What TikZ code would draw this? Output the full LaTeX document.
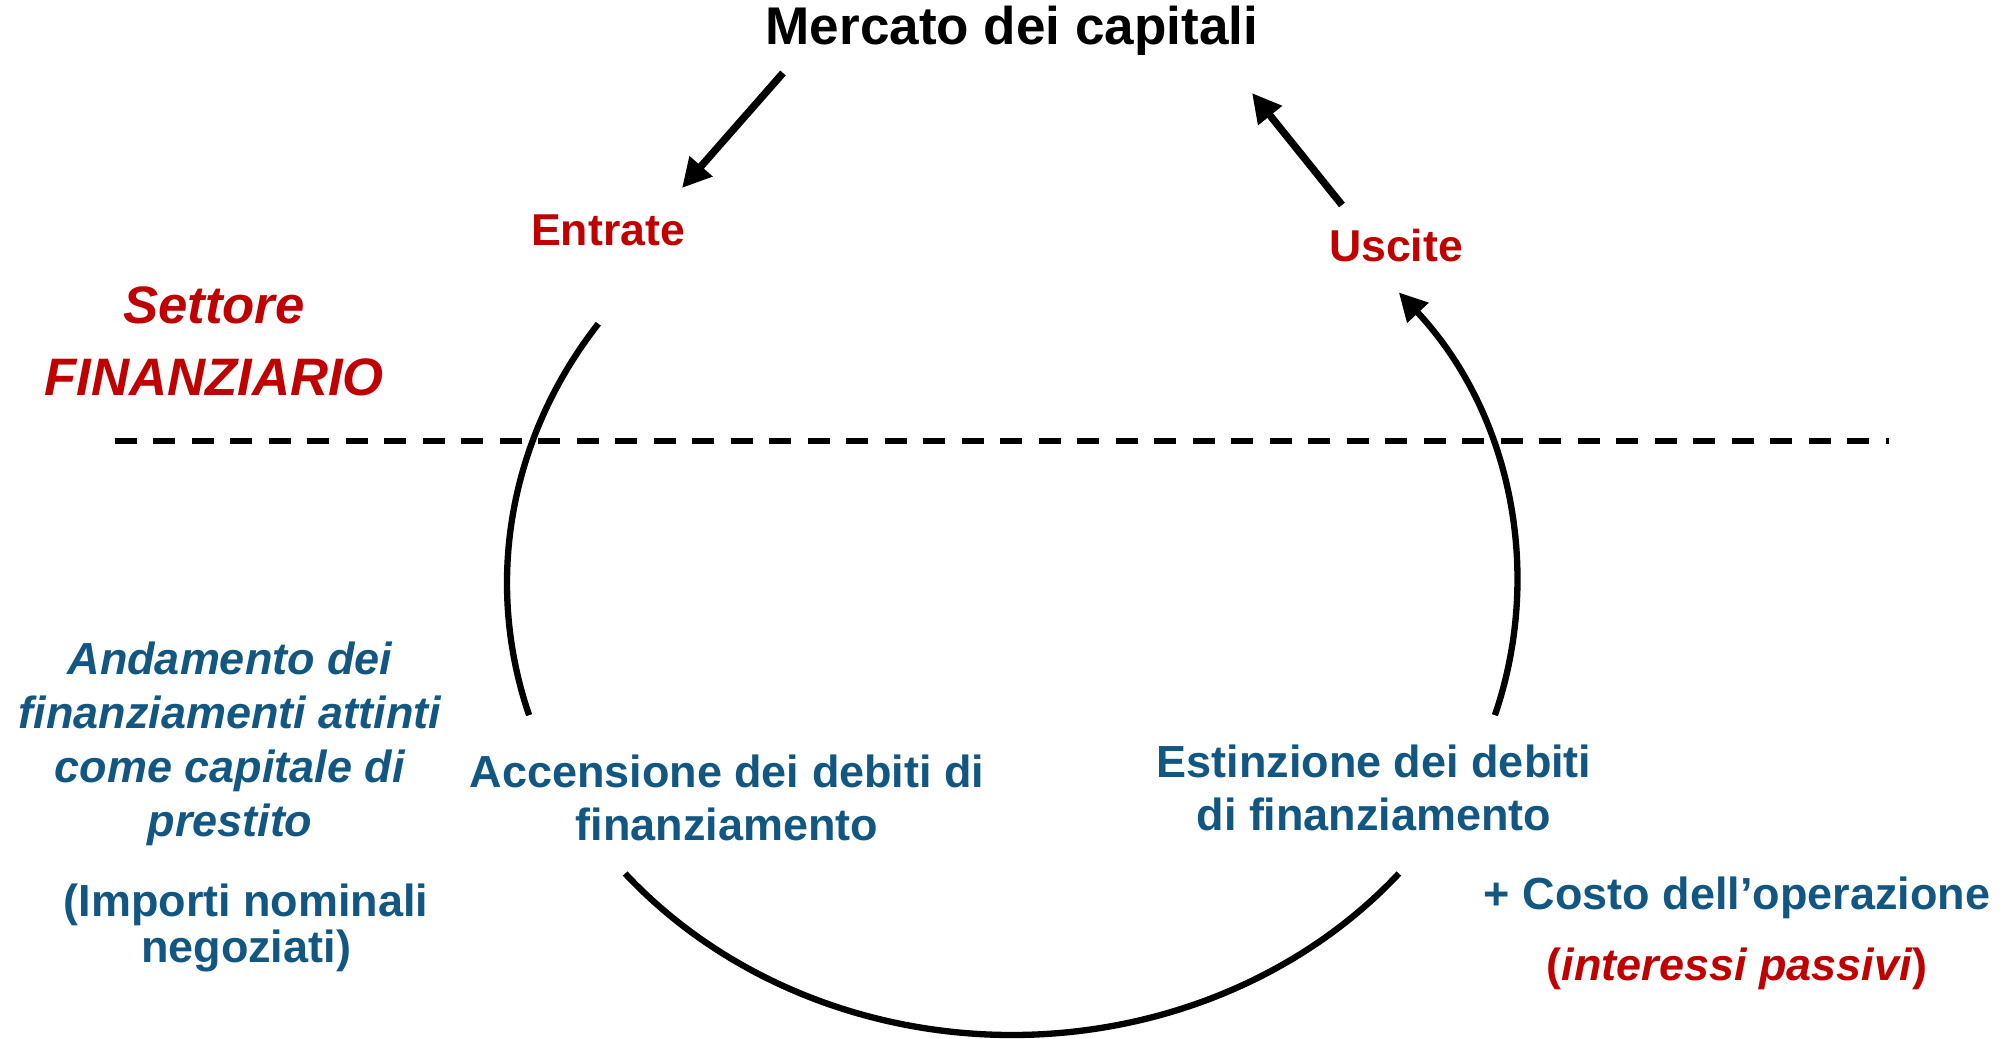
\documentclass[tikz,border=0pt]{standalone}
\usepackage{fontspec}
\setmainfont{Liberation Sans}
\usetikzlibrary{positioning, arrows.meta}
\definecolor{rosso}{HTML}{C00000}
\definecolor{blu}{HTML}{125682}

\begin{document}
\begin{tikzpicture}[
    txt/.style={inner sep=0pt, align=center, text=blu,
        font=\bfseries\fontsize{12.8}{15.3}\selectfont},
    txti/.style={txt, font=\bfseries\itshape\fontsize{12.8}{15.3}\selectfont},
    flusso/.style={inner sep=0pt, anchor=base, text=rosso,
        font=\bfseries\fontsize{12.7}{15}\selectfont},
    ciclo/.style={line width=1.8pt},
    freccia/.style={line width=2.1pt, -{Triangle[length=0.29cm, width=0.29cm]}}
]
\useasboundingbox (0,0) rectangle (20.08,10.38);

\node[inner sep=0pt, anchor=base, font=\bfseries\fontsize{15.1}{18}\selectfont]
    (mercato) at (10.12,9.94) {Mercato dei capitali};
\node[flusso] (entrate) at (6.08,7.93) {Entrate};
\node[flusso] (uscite) at (13.96,7.77) {Uscite};

\node[inner sep=0pt, align=center, text=rosso,
    font=\bfseries\itshape\fontsize{15}{20.5}\selectfont]
    (settore) at (2.14,6.97) {Settore\\FINANZIARIO};

\node[txti] (andamento) at (2.30,2.94)
    {Andamento dei\\finanziamenti attinti\\come capitale di\\prestito};
\node[txt, font=\bfseries\fontsize{12.8}{11.6}\selectfont] (importi) at (2.46,1.10)
    {(Importi nominali\\negoziati)};

\node[txt] (accensione) at (7.27,2.40) {Accensione dei debiti di\\finanziamento};
\node[txt] (estinzione) at (13.74,2.50) {Estinzione dei debiti\\di finanziamento};

\node[txt, anchor=base] (costo) at (17.37,1.29) {+ Costo dell’operazione};
\node[txt, anchor=base, text=rosso] (interessi) at (17.37,0.58)
    {(\textit{interessi passivi})};

\coordinate (c) at (10.12,4.55);
\coordinate (l1) at ([shift={(145:5.05 and 4.52)}]c);
\coordinate (b1) at ([shift={(220:5.05 and 4.52)}]c);
\coordinate (r1) at ([shift={(-17:5.05 and 4.52)}]c);

\coordinate (d1) at (1.15,5.97);
\coordinate (d2) at (18.89,5.97);

\coordinate (m1) at (7.83,9.65);
\coordinate (e1) at (6.82,8.50);
\coordinate (u1) at (13.42,8.33);
\coordinate (m2) at (12.52,9.45);

\draw[line width=1.6pt, dash pattern=on 0.22cm off 0.165cm] (d1) -- (d2);

\draw[ciclo] (l1) arc[start angle=145, end angle=197, x radius=5.05, y radius=4.52];
\draw[ciclo] (b1) arc[start angle=220, end angle=320, x radius=5.05, y radius=4.52];
\draw[ciclo, -{Triangle[length=0.28cm, width=0.28cm]}]
    (r1) arc[start angle=-17, end angle=40, x radius=5.05, y radius=4.52];

\draw[freccia] (m1) -- (e1);
\draw[freccia] (u1) -- (m2);
\end{tikzpicture}
\end{document}
